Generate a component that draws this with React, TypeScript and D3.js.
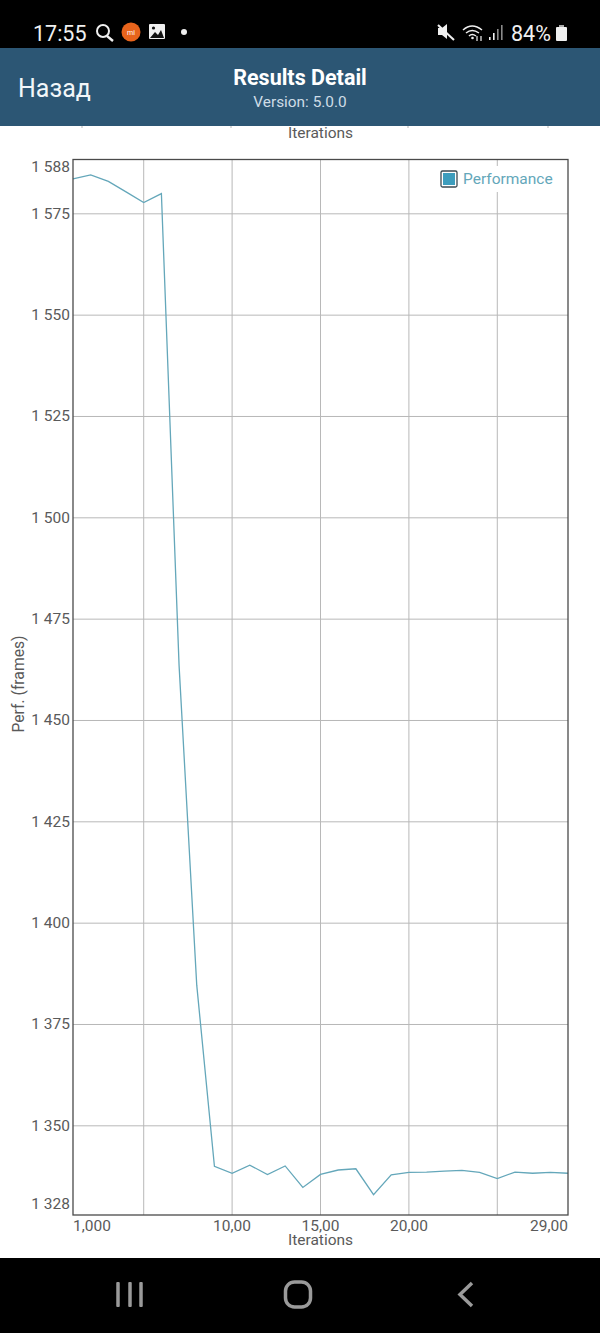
import React from "react";
import * as d3 from "d3";

const iterations = d3.range(1, 30);
const performance = [
  1583.6, 1584.6, 1583.0, 1580.4, 1577.8, 1580.0, 1463.6, 1384.7, 1340.0, 1338.3,
  1340.3, 1338.0, 1340.1, 1334.8, 1338.0, 1339.1, 1339.4, 1333.0, 1337.9, 1338.5,
  1338.6, 1338.8, 1339.0, 1338.5, 1337.0, 1338.6, 1338.3, 1338.5, 1338.3,
];
const yTicks = [1350, 1375, 1400, 1425, 1450, 1475, 1500, 1525, 1550, 1575];
const xGrid = [5, 10, 15, 20, 25];
const xLabels = [
  { label: "1,000", x: 92 },
  { label: "10,00", x: 232 },
  { label: "15,00", x: 320.5 },
  { label: "20,00", x: 409 },
  { label: "29,00", x: 549 },
];
const yDomain: [number, number] = [1328, 1588.4];
const seriesName = "Performance";
const backLabel = "Назад";
const titleLabel = "Results Detail";
const versionLabel = "Version: 5.0.0";
const xTitle = "Iterations";
const yTitle = "Perf. (frames)";
const clockLabel = "17:55";
const batteryLabel = "84%";
const topTickMarks = [82, 231, 408, 548];

const L = 73, R = 568, T = 159.5, B = 1215;
const FONT = "Roboto, sans-serif";
const TXT = "#5a5a5a";

export default function App() {
  const x = d3.scaleLinear().domain([1, 29]).range([L, R]);
  const y = d3.scaleLinear().domain(yDomain).range([B, T]);
  const line = d3.line<number>().x((_, i) => x(iterations[i])).y((d) => y(d));
  const fmt = (v: number) => `${Math.floor(v / 1000)} ${String(v % 1000).padStart(3, "0")}`;

  return (
    <svg width={600} height={1333} style={{ position: "absolute", left: 0, top: 0, display: "block", fontFamily: FONT }}>
      <rect width={600} height={1333} fill="#ffffff" />

      {/* status bar */}
      <rect width={600} height={48} fill="#000000" />
      <text x={33} y={41} fontSize={21.5} fill="#f0f0f0">{clockLabel}</text>
      <circle cx={103} cy={31} r={6} fill="none" stroke="#f0f0f0" strokeWidth={2} />
      <line x1={107} y1={36} x2={113} y2={41} stroke="#f0f0f0" strokeWidth={2.4} />
      <circle cx={131} cy={32} r={9.5} fill="#e8641c" />
      <text x={131} y={35} fontSize={7} fill="#fff" textAnchor="middle">mi</text>
      <rect x={149} y={24} width={16} height={15} fill="#f0f0f0" rx={1} />
      <path d="M150 38 L155 32 L158 35 L161 30 L164 38 Z" fill="#111" />
      <circle cx={153.5} cy={28} r={1.6} fill="#111" />
      <circle cx={184} cy={32} r={3} fill="#f0f0f0" />
      <path d="M438 28 H442 L447 24 V39 L442 35 H438 Z" fill="#f0f0f0" />
      <line x1={438} y1={25} x2={454} y2={40} stroke="#f0f0f0" strokeWidth={2} />
      <path d="M463 30 Q472 22 482 30 M466 33 Q472 28 479 33 M469 36 Q472 33 476 36" fill="none" stroke="#f0f0f0" strokeWidth={1.5} />
      <circle cx={472.5} cy={38} r={1.3} fill="#f0f0f0" />
      <path d="M477 36 V41 M481 41 V36" stroke="#f0f0f0" strokeWidth={1.2} />
      <rect x={489} y={37} width={1.6} height={3} fill="#f0f0f0" />
      <rect x={493} y={33} width={1.6} height={7} fill="#f0f0f0" />
      <rect x={497} y={29} width={1.6} height={11} fill="#8a8a8a" />
      <rect x={501} y={25} width={1.6} height={15} fill="#8a8a8a" />
      <text x={511} y={41} fontSize={21.5} fill="#f0f0f0">{batteryLabel}</text>
      <rect x={556} y={27} width={11} height={14} rx={1} fill="#f0f0f0" />
      <rect x={559} y={25} width={5} height={2} fill="#aaaaaa" />

      {/* header */}
      <rect y={48} width={600} height={78} fill="#2c5674" />
      <text x={18} y={97} fontSize={25} fill="#f2f6f9">{backLabel}</text>
      <text x={300} y={85} fontSize={21.5} fontWeight={700} fill="#ffffff" textAnchor="middle">{titleLabel}</text>
      <text x={300} y={107} fontSize={15.4} fill="#cfdde7" textAnchor="middle">{versionLabel}</text>

      {topTickMarks.map((px) => (
        <rect key={px} x={px - 0.5} y={126} width={1} height={2} fill="#b5b5b5" />
      ))}
      <text x={320.5} y={138} fontSize={15.5} fill={TXT} textAnchor="middle">{xTitle}</text>

      {/* grid */}
      {yTicks.map((t) => (
        <line key={t} x1={L} x2={R} y1={y(t)} y2={y(t)} stroke="#b8b8b8" strokeWidth={1} />
      ))}
      {xGrid.map((t) => (
        <line key={t} x1={x(t)} x2={x(t)} y1={T} y2={B} stroke="#b8b8b8" strokeWidth={1} />
      ))}

      {/* legend background hides the gridline behind it */}
      <rect x={436} y={166} width={120} height={26} fill="#ffffff" />

      {/* series */}
      <path d={line(performance) ?? ""} fill="none" stroke="#64a7ba" strokeWidth={1.3} />

      {/* frame */}
      <rect x={L} y={T} width={R - L} height={B - T} fill="none" stroke="#4a4a4a" strokeWidth={1.3} />

      {/* y labels */}
      {yTicks.map((t) => (
        <text key={t} x={70} y={y(t) + 5} fontSize={15.5} fill={TXT} textAnchor="end">{fmt(t)}</text>
      ))}
      <text x={70} y={171.5} fontSize={15.5} fill={TXT} textAnchor="end">{fmt(1588)}</text>
      <text x={70} y={1209} fontSize={15.5} fill={TXT} textAnchor="end">{fmt(1328)}</text>

      {/* x labels */}
      {xLabels.map((d) => (
        <text key={d.label} x={d.x} y={1231} fontSize={15.5} fill={TXT} textAnchor="middle">{d.label}</text>
      ))}
      <text x={320.5} y={1245} fontSize={15.5} fill={TXT} textAnchor="middle">{xTitle}</text>
      <text transform="translate(23.5,684) rotate(-90)" fontSize={15.7} fill={TXT} textAnchor="middle">{yTitle}</text>

      {/* legend */}
      <rect x={441} y={171} width={16} height={16} rx={1.5} fill="#ffffff" stroke="#3c4a52" strokeWidth={1.3} />
      <rect x={443} y={173} width={12} height={12} fill="#3d9dbd" />
      <text x={463} y={184} fontSize={15.5} fill="#64a7ba">{seriesName}</text>

      {/* navigation bar */}
      <rect y={1258} width={600} height={75} fill="#000000" />
      {[118, 130, 141].map((px) => (
        <rect key={px} x={px - 1.75} y={1282} width={3.5} height={25} rx={1} fill="#9a9a9a" />
      ))}
      <rect x={285.5} y={1282} width={25} height={25} rx={9} fill="none" stroke="#9a9a9a" strokeWidth={3.5} />
      <path d="M472 1283 L460 1294.5 L472 1306" fill="none" stroke="#9a9a9a" strokeWidth={3.5} />
    </svg>
  );
}
